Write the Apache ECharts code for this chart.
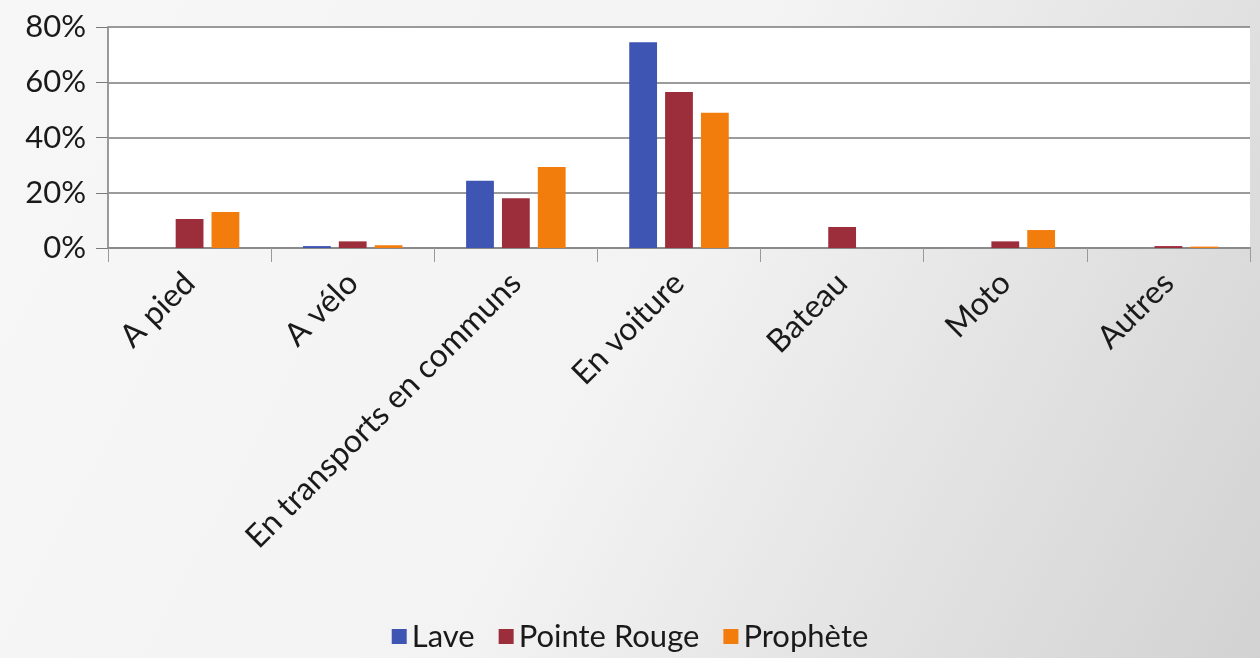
<!DOCTYPE html>
<html>
<head>
<meta charset="utf-8">
<script src="https://cdn.jsdelivr.net/npm/echarts@6/dist/echarts.min.js"></script>
<style>
  html, body { margin: 0; padding: 0; }
  #chart { width: 1260px; height: 658px; }
</style>
</head>
<body>
<div id="chart"></div>
<script>
var categories = ['A pied', 'A vélo', 'En transports en communs', 'En voiture', 'Bateau', 'Moto', 'Autres'];
var lave = [0, 0.7, 24.3, 74.5, 0, 0, 0];
var pointeRouge = [10.5, 2.4, 18, 56.5, 7.6, 2.4, 0.7];
var prophete = [13, 1, 29.3, 49, 0, 6.5, 0.5];
var yTicks = [0, 20, 40, 60, 80];

var dom = document.getElementById('chart');
var myChart = echarts.init(dom);

var option = {
    backgroundColor: {
        type: 'linear', x: 0, y: 0, x2: 1, y2: 1,
        colorStops: [
            { offset: 0, color: '#f7f7f7' },
            { offset: 0.5, color: '#f3f3f3' },
            { offset: 1, color: '#d2d2d2' }
        ]
    },
    textStyle: { fontFamily: 'Lato, "Open Sans", sans-serif' },
    grid: {
        left: 108, right: 10, top: 27, bottom: 410,
        show: true, backgroundColor: '#ffffff', borderWidth: 0
    },
    legend: {
        bottom: 1,
        left: 'center',
        icon: 'rect',
        itemWidth: 15,
        itemHeight: 15,
        itemGap: 24,
        textStyle: { fontSize: 31, color: '#1a1a1a' },
        data: ['Lave', 'Pointe Rouge', 'Prophète']
    },
    xAxis: {
        type: 'category',
        data: categories,
        axisLine: { lineStyle: { color: '#8a8a8a', width: 2 } },
        axisTick: { show: true, length: 14, lineStyle: { color: '#9a9a9a' } },
        axisLabel: { rotate: 45, fontSize: 32, color: '#1a1a1a', margin: 30, interval: 0 }
    },
    yAxis: {
        type: 'value',
        min: yTicks[0],
        max: yTicks[yTicks.length - 1],
        interval: 20,
        axisLine: { show: true, lineStyle: { color: '#9a9a9a', width: 2 } },
        axisTick: { show: true, length: 12, lineStyle: { color: '#7a7a7a' } },
        splitLine: { lineStyle: { color: '#7a7a7a', width: 1.5 } },
        axisLabel: { formatter: '{value}%', fontSize: 31, color: '#1a1a1a', margin: 22 }
    },
    series: [
        { name: 'Lave', type: 'bar', data: lave, barGap: '29%', barCategoryGap: '39%', itemStyle: { color: '#3f55b3' } },
        { name: 'Pointe Rouge', type: 'bar', data: pointeRouge, itemStyle: { color: '#9c2e3b' } },
        { name: 'Prophète', type: 'bar', data: prophete, itemStyle: { color: '#f27d0c' } }
    ]
};

myChart.setOption(option, true);
</script>
</body>
</html>
